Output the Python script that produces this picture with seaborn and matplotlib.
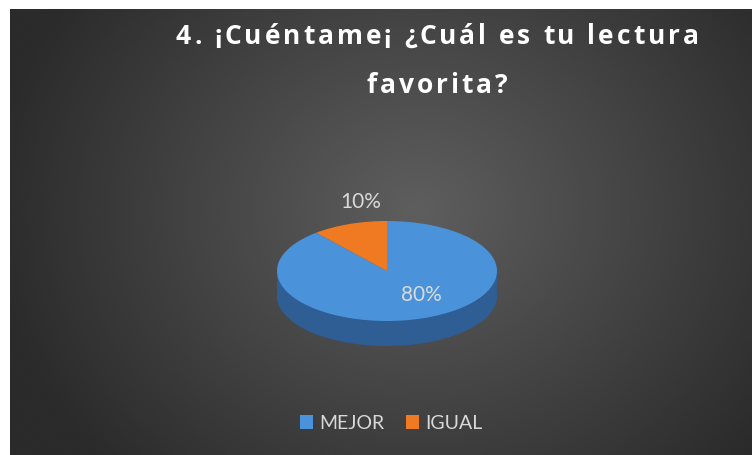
import numpy as np
import seaborn as sns
import matplotlib.pyplot as plt
from matplotlib.patches import Patch

# datos de la encuesta
categorias = ["MEJOR", "IGUAL"]
valores = [80, 10]
titulo = ["4. ¡Cuéntame¡ ¿Cuál es tu lectura", "favorita?"]

sns.set_theme(style="white")
plt.rcParams["font.family"] = ["Open Sans", "DejaVu Sans"]

colores = sns.color_palette(["#4A93DB", "#F07A22"])
lado = "#2E5E94"
texto = "#D9D9D9"

W, H = 752, 456
fig = plt.figure(figsize=(W / 100, H / 100), dpi=100)
fig.patch.set_facecolor("white")

# fondo con degradado radial
bg = fig.add_axes([10 / W, 0, (W - 10) / W, (H - 10) / H])
yy, xx = np.mgrid[0:1:300j, 0:1:500j]
d = np.sqrt(((xx - 0.55) * 1.3) ** 2 + ((yy - 0.45) * 0.9) ** 2)
d = np.clip(d / 0.75, 0, 1)
img = 0.37 - 0.20 * d
bg.imshow(img, cmap="gray", vmin=0, vmax=1, aspect="auto", extent=[0, 1, 0, 1], interpolation="bicubic")
bg.set_axis_off()

# ejes del pastel: radio 110 px en x, 50 px en y
cx, cy = 387, 272
rx, ry = 110, 50
ax = fig.add_axes([0, 0, 1, 1])
ax.patch.set_alpha(0)

# grosor (lado 3D)
for dz in np.linspace(0.5, 0.02, 25):
    ax.pie(valores, colors=[lado, lado], startangle=90, counterclock=False,
           center=(0, -dz), radius=1, wedgeprops=dict(linewidth=0))

total = sum(valores)
wedges, _, autotexts = ax.pie(
    valores, colors=colores, startangle=90, counterclock=False,
    center=(0, 0), radius=1, wedgeprops=dict(linewidth=0),
    autopct=lambda p: f"{p * total / 100:.0f}%",
    textprops=dict(color=texto, fontsize=15, family=["Lato", "DejaVu Sans"]))
autotexts[0].set_position(((421 - cx) / rx, (cy - 295) / ry))
autotexts[1].set_position(((361 - cx) / rx, (cy - 202) / ry))

ax.set_aspect("auto")
ax.set_xlim(-cx / rx, (W - cx) / rx)
ax.set_ylim(-(H - cy) / ry, cy / ry)
ax.set_axis_off()

# título con espaciado entre letras
renderer = fig.canvas.get_renderer()
tkw = dict(color="white", fontsize=19, fontweight="bold")


def ancho(s):
    t = fig.text(0, 0, "|" + s + "|", **tkw)
    w = t.get_window_extent(renderer).width
    t.remove()
    t = fig.text(0, 0, "||", **tkw)
    w -= t.get_window_extent(renderer).width
    t.remove()
    return w


esp = (522 - ancho(titulo[0])) / (len(titulo[0]) - 1)
for linea, base in zip(titulo, [44, 93]):
    total_w = ancho(linea) + esp * (len(linea) - 1)
    x0 = 437 - total_w / 2
    for i, ch in enumerate(linea):
        x = x0 + ancho(linea[:i]) + esp * i
        fig.text(x / W, 1 - base / H, ch, ha="left", va="baseline", **tkw)

handles = [Patch(facecolor=c, edgecolor="none") for c in colores]
leg = fig.legend(handles, categorias, loc="center", bbox_to_anchor=(391 / W, 1 - 424 / H),
                 ncol=2, frameon=False, handlelength=0.7, handleheight=0.7,
                 handletextpad=0.3, columnspacing=1.1,
                 prop=dict(family=["Lato", "DejaVu Sans"], size=14))
for t in leg.get_texts():
    t.set_color(texto)

plt.savefig("out.png", dpi=100)
